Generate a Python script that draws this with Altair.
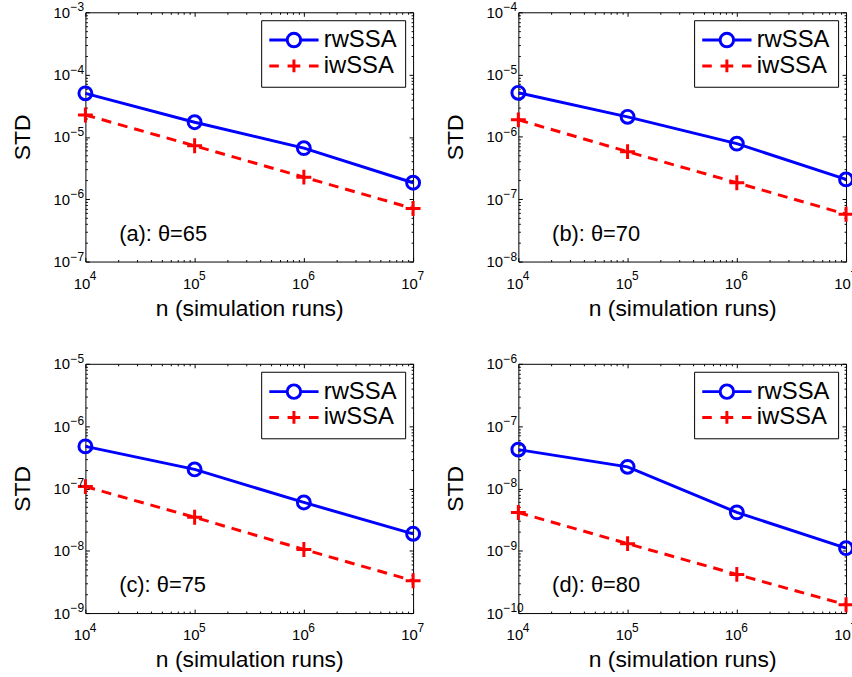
import altair as alt
import pandas as pd

# ---- data ----
N = [1e4, 1e5, 1e6, 1e7]
SERIES = ["rwSSA", "iwSSA"]

a_rw = [5.0e-5, 1.72e-5, 6.6e-6, 1.84e-6]
a_iw = [2.25e-5, 7.2e-6, 2.26e-6, 7.1e-7]
b_rw = [5.1e-6, 2.1e-6, 7.8e-7, 2.08e-7]
b_iw = [1.88e-6, 5.8e-7, 1.84e-7, 5.75e-8]
c_rw = [4.73e-7, 2.02e-7, 5.96e-8, 1.87e-8]
c_iw = [1.07e-7, 3.44e-8, 1.05e-8, 3.3e-9]
d_rw = [4.2e-8, 2.22e-8, 4.13e-9, 1.1e-9]
d_iw = [4.1e-9, 1.3e-9, 4.17e-10, 1.36e-10]

X_DECADES = [4, 5, 6, 7]
Y_DECADES = {
    "a": [-7, -6, -5, -4, -3],
    "b": [-8, -7, -6, -5, -4],
    "c": [-9, -8, -7, -6, -5],
    "d": [-10, -9, -8, -7, -6],
}
LABELS = {"a": "(a): θ=65", "b": "(b): θ=70", "c": "(c): θ=75", "d": "(d): θ=80"}
MINOR_MULT = [2, 3, 4, 5, 6, 7, 8, 9]

# ---- style ----
FONT = "Liberation Sans"
BLUE = "#0000ff"
RED = "#ff0000"
W, H = 330, 251

# legend symbols (unit = 8 px with symbolSize 256)
RW_SYM = "M-3.1,0L-0.85,0M0.85,0L3.1,0M0.85,0A0.85,0.85,0,1,1,-0.85,0A0.85,0.85,0,1,1,0.85,0"
IW_SYM = "M-3.1,0L-1.9,0M3.1,0L1.9,0M-0.8,0L0.8,0M0,-0.8L0,0.8"
PLUS = "M-1,0L1,0M0,-1L0,1"

IS_MAJOR = "abs(log(datum.value)/LN10 - round(log(datum.value)/LN10)) < 0.001"
LABEL_EXPR = f"{IS_MAJOR} ? '10' : ''"


def ticks_from(decades):
    vals = []
    for i, d in enumerate(decades):
        vals.append(10.0 ** d)
        if i < len(decades) - 1:
            vals += [m * 10.0 ** d for m in MINOR_MULT]
    return vals


def exp_text(d):
    return ("−" if d < 0 else "") + str(abs(d))


def panel(rw, iw, key):
    df = pd.DataFrame({
        "n": N * 2,
        "std": rw + iw,
        "series": ["rwSSA"] * 4 + ["iwSSA"] * 4,
    })
    yd = Y_DECADES[key]
    xaxis = alt.Axis(
        values=ticks_from(X_DECADES), labelExpr=LABEL_EXPR, labelOverlap=False, labelFlush=False,
        title="n (simulation runs)", labelPadding=15, labelOffset=-4, titlePadding=6,
        gridDash={"condition": {"test": IS_MAJOR, "value": [4, H - 8, 4, 2000]},
                  "value": [2, H - 4, 2, 2000]},
    )
    yaxis = alt.Axis(
        values=ticks_from(yd), labelExpr=LABEL_EXPR, labelOverlap=False, labelFlush=False,
        title="STD", labelPadding=16, titlePadding=19,
        gridDash={"condition": {"test": IS_MAJOR, "value": [4, W - 8, 4, 2000]},
                  "value": [2, W - 4, 2, 2000]},
    )
    x = alt.X("n:Q", scale=alt.Scale(type="log", domain=[1e4, 1e7], nice=False), axis=xaxis)
    y = alt.Y("std:Q", scale=alt.Scale(type="log", domain=[10.0 ** yd[0], 10.0 ** yd[-1]], nice=False),
              axis=yaxis)
    base = alt.Chart(df)
    rw_line = base.transform_filter("datum.series == 'rwSSA'").mark_line(
        color=BLUE, strokeWidth=3).encode(x=x, y=y)
    rw_pts = base.transform_filter("datum.series == 'rwSSA'").mark_point(
        shape="circle", size=169, filled=False, color=BLUE, strokeWidth=3, opacity=1).encode(x=x, y=y)
    iw_line = base.transform_filter("datum.series == 'iwSSA'").mark_line(
        color=RED, strokeWidth=3, strokeDash=[10, 7]).encode(x=x, y=y)
    iw_pts = base.transform_filter("datum.series == 'iwSSA'").mark_point(
        shape=PLUS, size=225, filled=False, color=RED, strokeWidth=3, opacity=1).encode(x=x, y=y)

    leg = alt.Legend(
        title=None, orient="top-right", offset=8, padding=8,
        strokeColor="black", fillColor="white",
        symbolSize=256, symbolStrokeWidth=3, symbolOffset=13,
        labelFontSize=24, labelFont=FONT, labelColor="black", labelOffset=18,
        rowPadding=0, labelLimit=300,
    )
    legend_layer = base.transform_filter("datum.n < 0").mark_point(
        filled=False, strokeWidth=3, opacity=1).encode(
        color=alt.Color("series:N", scale=alt.Scale(domain=SERIES, range=[BLUE, RED]), legend=leg),
        shape=alt.Shape("series:N", scale=alt.Scale(domain=SERIES, range=[RW_SYM, IW_SYM]), legend=leg),
    )

    # exponents of the tick labels
    xexp = alt.Chart(pd.DataFrame({"n": [10.0 ** d for d in X_DECADES],
                                   "t": [exp_text(d) for d in X_DECADES]})).mark_text(
        align="left", baseline="alphabetic", fontSize=12, font=FONT, color="black", dx=4.5).encode(
        x=x, y=alt.value(H + 19), text="t:N")
    yexp = alt.Chart(pd.DataFrame({"std": [10.0 ** d for d in yd],
                                   "t": [exp_text(d) for d in yd]})).mark_text(
        align="left", baseline="alphabetic", fontSize=12, font=FONT, color="black", dy=-1).encode(
        y=y, x=alt.value(-15), text="t:N")

    text = alt.Chart(pd.DataFrame({"t": [LABELS[key]]})).mark_text(
        align="left", baseline="alphabetic", fontSize=22, font=FONT, color="black").encode(
        text="t:N", x=alt.value(34), y=alt.value(230))
    return alt.layer(rw_line, rw_pts, iw_line, iw_pts, legend_layer, xexp, yexp, text).properties(
        width=W, height=H)


def indep(c):
    return c.resolve_scale(color="independent", shape="independent") \
            .resolve_legend(color="independent", shape="independent")


row1 = indep(alt.hconcat(panel(a_rw, a_iw, "a"), panel(b_rw, b_iw, "b"), spacing=16))
row2 = indep(alt.hconcat(panel(c_rw, c_iw, "c"), panel(d_rw, d_iw, "d"), spacing=16))
chart = indep(alt.vconcat(row1, row2, spacing=31)).configure(
    padding={"left": 10, "top": -2, "right": -8, "bottom": 0}, font=FONT,
).configure_view(stroke="black", strokeWidth=1).configure_axis(
    domain=False, ticks=False, tickSize=0, grid=True, gridColor="black", gridOpacity=1, gridWidth=1,
    labelFontSize=15, labelFont=FONT, labelColor="black",
    titleFontSize=23, titleFont=FONT, titleColor="black", titleFontWeight="normal",
)

chart.save("out.html", embed_options={"renderer": "svg", "actions": False})
